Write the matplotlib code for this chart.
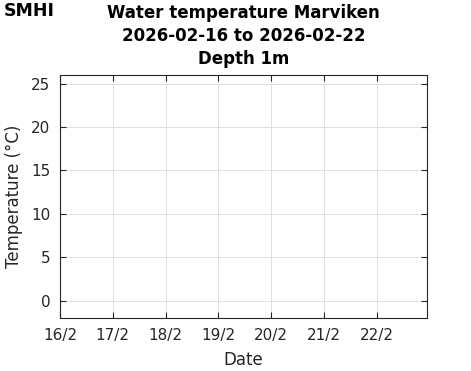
# Water temperature plot, SMHI style (empty week, no measurements)
import pandas as pd
import matplotlib.pyplot as plt
import matplotlib.dates as mdates

# Data
station = "Marviken"
depth_label = "Depth 1m"
start_date = "2026-02-16"
end_date = "2026-02-22"
times = pd.to_datetime([])  # no observations in this period
temperature = []
y_ticks = [0, 5, 10, 15, 20, 25]
y_limits = (-2, 26)

plt.rcParams["font.family"] = ["DejaVu Sans"]
text_col = "#262626"

fig = plt.figure(figsize=(4.71, 3.71), dpi=100)
ax = fig.add_axes([0.1274, 0.1429, 0.7798, 0.655])

ax.plot(times, temperature, color="#0072bd", linewidth=1.2)

ax.set_xlim(pd.Timestamp(start_date), pd.Timestamp(end_date) + pd.Timedelta(hours=23))
ax.set_ylim(*y_limits)
ax.set_yticks(y_ticks)
ax.xaxis.set_major_locator(mdates.DayLocator())
ax.xaxis.set_major_formatter(mdates.DateFormatter("%-d/%-m"))

ax.grid(True, color="#dedede", linewidth=0.7)
ax.set_axisbelow(True)
for sp in ax.spines.values():
    sp.set_color(text_col)
    sp.set_linewidth(0.8)
ax.tick_params(direction="in", top=True, right=True, length=4, width=0.8,
               colors=text_col, labelsize=11, pad=7)

ax.set_xlabel("Date", fontsize=12, color=text_col)
ax.set_ylabel("Temperature (°C)", fontsize=12, color=text_col)
ax.xaxis.set_label_coords(0.5, -0.136)
ax.yaxis.set_label_coords(-0.10, 0.5)

# Three-line title
cx = 0.5174
fig.text(cx, 1 - 13.5 / 371, f"Water temperature {station}", ha="center", va="center",
         fontsize=12, fontweight="bold", color="black")
fig.text(cx, 1 - 36 / 371, f"{start_date} to {end_date}", ha="center", va="center",
         fontsize=12, fontweight="bold", color="black")
fig.text(cx, 1 - 58.5 / 371, depth_label, ha="center", va="center",
         fontsize=12, fontweight="bold", color="black")

# Logo
fig.text(4 / 471, 1 - 11.5 / 371, "SMHI", ha="left", va="center", fontsize=12.5,
         fontweight="heavy", color="black")

fig.savefig("out.png", dpi=100)
